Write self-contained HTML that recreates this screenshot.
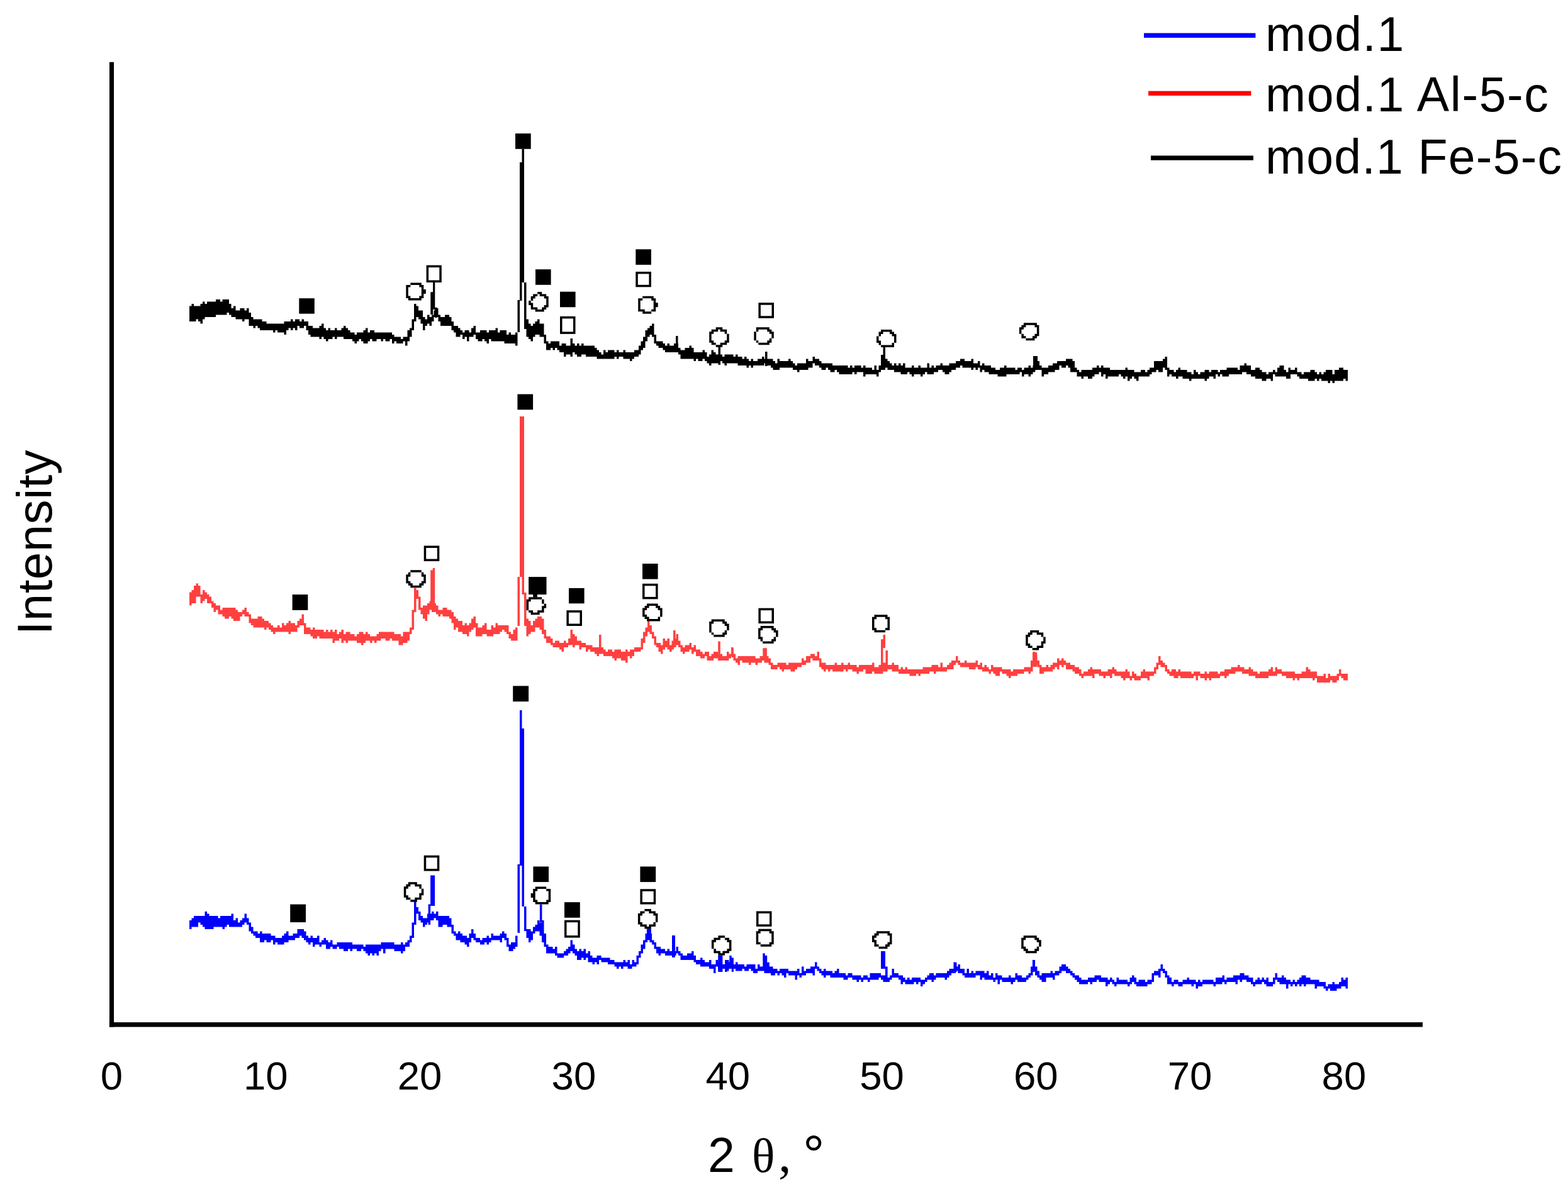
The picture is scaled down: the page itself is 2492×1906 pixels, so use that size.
<!DOCTYPE html>
<html lang="en">
<head>
<meta charset="utf-8">
<title>XRD patterns: mod.1, mod.1 Al-5-c, mod.1 Fe-5-c</title>
<style>
html,body{margin:0;padding:0;background:#fff;}
body{width:2492px;height:1906px;overflow:hidden;}
svg{display:block;}
text{font-family:"Liberation Sans",Arial,Helvetica,sans-serif;fill:#000;}
.serif{font-family:"Liberation Serif","Times New Roman",Times,serif;}
</style>
</head>
<body>
<svg width="2492" height="1906" viewBox="0 0 2492 1906">
<rect width="2492" height="1906" fill="#fff"/>
<g>
<rect x="173.9" y="98.7" width="7.1" height="1533.8" fill="#000"/>
<rect x="173.9" y="1625.1" width="2087.1" height="7.4" fill="#000"/>
<path fill="#0000ff" d="M301 1463H304.5V1459.5H308V1456H325.5V1449H329V1452.5H332.5V1456H346.5V1459.5H350V1456H367.5V1452.5H371V1463H374.5V1459.5H378V1466.5H381.5V1463H385V1459.5H388.5V1452.5H392V1459.5H395.5V1466.5H399V1473.5H402.5V1480.5H409.5V1484H413V1480.5H416.5V1484H430.5V1487.5H437.5V1491H448V1487.5H451.5V1484H455V1480.5H458.5V1487.5H465.5V1484H472.5V1477H483V1480.5H486.5V1487.5H490V1491H493.5V1487.5H497V1491H504V1487.5H507.5V1498H511V1494.5H514.5V1491H518V1494.5H521.5V1498H525V1494.5H528.5V1501.5H535.5V1498H560V1501.5H577.5V1505H581V1501.5H605.5V1498H626.5V1501.5H637V1498H640.5V1501.5H644V1498H647.5V1494.5H651V1487.5H654.5V1466.5H658V1431.5H661.5V1442H665V1449H668.5V1456H672V1459.5H679V1452.5H686V1449H689.5V1452.5H693V1449H696.5V1456H714V1459.5H717.5V1470H721V1480.5H724.5V1484H728V1480.5H731.5V1484H735V1487.5H742V1491H745.5V1484H749V1477H752.5V1484H756V1491H763V1494.5H766.5V1491H773.5V1487.5H777V1491H780.5V1484H784V1487.5H794.5V1484H798V1480.5H801.5V1484H805V1491H808.5V1501.5H812V1498H819V1487.5H822.5V1505H819V1508.5H815.5V1512H808.5V1505H805V1494.5H801.5V1491H798V1498H794.5V1494.5H780.5V1498H777V1501.5H773.5V1498H770V1501.5H763V1498H756V1494.5H752.5V1491H749V1498H745.5V1505H742V1501.5H738.5V1498H731.5V1494.5H724.5V1487.5H721V1484H717.5V1473.5H710.5V1470H703.5V1473.5H696.5V1463H693V1459.5H689.5V1463H682.5V1466.5H679V1470H675.5V1473.5H672V1466.5H668.5V1463H665V1452.5H661.5V1470H658V1491H654.5V1498H651V1505H644V1512H640.5V1515.5H637V1512H626.5V1508.5H612.5V1515.5H609V1508.5H605.5V1512H602V1519H598.5V1515.5H595V1519H591.5V1515.5H588V1519H584.5V1515.5H581V1512H577.5V1508.5H574V1512H567V1508.5H560V1512H556.5V1508.5H553V1512H546V1508.5H539V1505H535.5V1508.5H528.5V1505H525V1508.5H518V1501.5H511V1505H507.5V1501.5H500.5V1505H497V1498H493.5V1501.5H490V1498H486.5V1494.5H483V1491H479.5V1487.5H476V1491H469V1494.5H458.5V1498H451.5V1501.5H441V1498H437.5V1501.5H434V1494.5H430.5V1498H423.5V1494.5H420V1498H413V1491H406V1487.5H402.5V1484H399V1480.5H395.5V1470H392V1466.5H388.5V1470H385V1473.5H364V1470H360.5V1473.5H357V1477H353.5V1473.5H339.5V1477H325.5V1473.5H322V1470H318.5V1466.5H315V1473.5H304.5V1477H301ZM836.5 1477H843.5V1480.5H847V1473.5H850.5V1470H854V1463H857.5V1466.5H861V1463H864.5V1484H868V1501.5H871.5V1505H878.5V1508.5H882V1505H885.5V1515.5H896V1512H899.5V1508.5H903V1505H906.5V1494.5H910V1501.5H913.5V1508.5H917V1512H920.5V1508.5H924V1512H927.5V1508.5H931V1515.5H934.5V1512H938V1519H941.5V1522.5H948.5V1519H955.5V1522.5H969.5V1526H976.5V1529.5H990.5V1526H994V1529.5H997.5V1526H1001V1533H1004.5V1526H1008V1529.5H1011.5V1519H1015V1512H1018.5V1501.5H1022V1494.5H1025.5V1484H1029V1473.5H1032.5V1484H1036V1494.5H1039.5V1498H1043V1505H1050V1508.5H1057V1512H1060.5V1508.5H1064V1512H1074.5V1505H1078V1512H1081.5V1515.5H1085V1519H1092V1515.5H1099V1512H1102.5V1519H1106V1526H1113V1522.5H1116.5V1526H1120V1529.5H1127V1526H1130.5V1533H1137.5V1526H1141V1529.5H1148V1533H1155V1526H1158.5V1529.5H1162V1533H1169V1529.5H1172.5V1533H1183V1536.5H1186.5V1533H1200.5V1540H1204V1533H1207.5V1536.5H1214.5V1533H1221.5V1536.5H1228.5V1540H1235.5V1543.5H1239V1540H1253V1543.5H1267V1540H1270.5V1547H1274V1536.5H1277.5V1543.5H1281V1540H1288V1536.5H1295V1529.5H1298.5V1536.5H1302V1540H1305.5V1543.5H1309V1540H1312.5V1543.5H1323V1547H1326.5V1543.5H1330V1540H1333.5V1547H1344V1550.5H1347.5V1547H1354.5V1550.5H1368.5V1554H1372V1550.5H1379V1554H1382.5V1547H1400V1550.5H1410.5V1554H1414V1550.5H1417.5V1540H1421V1547H1428V1550.5H1435V1554H1438.5V1557.5H1442V1554H1445.5V1557.5H1449V1554H1463V1557.5H1470V1554H1473.5V1550.5H1477V1547H1484V1550.5H1487.5V1547H1505V1543.5H1508.5V1540H1515.5V1529.5H1519V1536.5H1522.5V1533H1526V1540H1533V1547H1536.5V1540H1540V1547H1543.5V1543.5H1547V1547H1550.5V1543.5H1564.5V1547H1568V1543.5H1571.5V1550.5H1575V1547H1578.5V1554H1582V1547H1585.5V1550.5H1592.5V1554H1603V1550.5H1606.5V1554H1613.5V1547H1617V1550.5H1624V1554H1631V1550.5H1634.5V1547H1638V1536.5H1641.5V1526H1645V1536.5H1648.5V1543.5H1652V1550.5H1655.5V1547H1669.5V1543.5H1673V1547H1676.5V1543.5H1683.5V1536.5H1687V1533H1694V1536.5H1697.5V1540H1701V1543.5H1704.5V1547H1708V1550.5H1715V1554H1718.5V1557.5H1729V1554H1739.5V1550.5H1750V1554H1760.5V1557.5H1764V1554H1767.5V1557.5H1771V1561H1774.5V1554H1778V1557.5H1792V1561H1795.5V1554H1799V1550.5H1802.5V1554H1806V1561H1809.5V1557.5H1820V1561H1823.5V1557.5H1830.5V1547H1834V1543.5H1841V1540H1844.5V1533H1848V1540H1851.5V1543.5H1855V1550.5H1858.5V1554H1862V1561H1865.5V1557.5H1872.5V1561H1879.5V1557.5H1886.5V1554H1890V1557.5H1900.5V1561H1904V1557.5H1907.5V1561H1911V1557.5H1928.5V1561H1932V1554H1942.5V1550.5H1946V1557.5H1949.5V1554H1960V1550.5H1970.5V1547H1977.5V1550.5H1984.5V1554H1991.5V1561H1995V1557.5H1998.5V1554H2002V1557.5H2005.5V1554H2009V1557.5H2012.5V1554H2016V1561H2023V1554H2026.5V1547H2030V1554H2037V1550.5H2040.5V1554H2044V1557.5H2051V1561H2054.5V1557.5H2058V1561H2061.5V1557.5H2065V1554H2068.5V1550.5H2075.5V1554H2082.5V1557.5H2096.5V1561H2107V1568H2110.5V1564.5H2117.5V1561H2121V1564.5H2128V1561H2131.5V1554H2135V1557.5H2138.5V1554H2142V1571.5H2138.5V1568H2131.5V1571.5H2124.5V1575H2114V1571.5H2110.5V1575H2107V1571.5H2103.5V1568H2093V1571.5H2089.5V1564.5H2075.5V1568H2072V1564.5H2068.5V1568H2065V1564.5H2061.5V1568H2058V1564.5H2054.5V1568H2051V1564.5H2047.5V1571.5H2044V1564.5H2033.5V1561H2030V1557.5H2026.5V1564.5H2023V1568H2012.5V1564.5H2009V1561H2005.5V1564.5H1995V1568H1991.5V1564.5H1988V1561H1981V1557.5H1974V1561H1970.5V1557.5H1967V1564.5H1963.5V1561H1949.5V1564.5H1946V1561H1942.5V1564.5H1932V1568H1928.5V1564.5H1911V1568H1904V1571.5H1900.5V1564.5H1897V1568H1893.5V1564.5H1879.5V1568H1872.5V1564.5H1865.5V1568H1862V1564.5H1855V1554H1851.5V1547H1848V1543.5H1844.5V1554H1841V1550.5H1834V1561H1830.5V1564.5H1823.5V1568H1806V1564.5H1802.5V1561H1799V1564.5H1795.5V1568H1792V1564.5H1774.5V1568H1771V1564.5H1767.5V1561H1764V1564.5H1760.5V1568H1757V1561H1746.5V1557.5H1743V1561H1736V1564.5H1732.5V1561H1729V1564.5H1715V1561H1711.5V1557.5H1708V1554H1704.5V1550.5H1701V1547H1694V1543.5H1687V1547H1683.5V1550.5H1676.5V1557.5H1673V1554H1662.5V1561H1655.5V1557.5H1652V1554H1648.5V1550.5H1645V1543.5H1641.5V1550.5H1638V1554H1634.5V1557.5H1631V1561H1617V1557.5H1613.5V1561H1610V1564.5H1606.5V1561H1592.5V1557.5H1589V1564.5H1585.5V1557.5H1582V1561H1578.5V1557.5H1564.5V1554H1561V1557.5H1557.5V1550.5H1550.5V1554H1533V1550.5H1529.5V1547H1522.5V1543.5H1519V1547H1512V1550.5H1508.5V1554H1505V1557.5H1501.5V1554H1487.5V1557.5H1484V1561H1480.5V1557.5H1473.5V1561H1470V1564.5H1466.5V1568H1463V1561H1459.5V1564.5H1456V1561H1452.5V1564.5H1438.5V1561H1435V1564.5H1431.5V1557.5H1428V1554H1417.5V1557.5H1414V1561H1403.5V1557.5H1400V1554H1396.5V1557.5H1382.5V1561H1379V1557.5H1372V1561H1368.5V1557.5H1365V1561H1361.5V1557.5H1354.5V1554H1347.5V1557.5H1340.5V1554H1319.5V1550.5H1312.5V1554H1309V1550.5H1305.5V1547H1302V1543.5H1298.5V1540H1295V1550.5H1291.5V1547H1281V1550.5H1274V1554H1270.5V1550.5H1267V1557.5H1263.5V1550.5H1253V1547H1249.5V1554H1246V1550.5H1242.5V1547H1239V1550.5H1235.5V1547H1232V1550.5H1225V1547H1214.5V1543.5H1204V1547H1197V1543.5H1193.5V1540H1190V1543.5H1183V1540H1179.5V1543.5H1169V1540H1158.5V1543.5H1155V1540H1141V1536.5H1137.5V1547H1134V1540H1127V1536.5H1113V1533H1106V1529.5H1102.5V1526H1081.5V1519H1078V1515.5H1074.5V1519H1057V1515.5H1050V1519H1046.5V1515.5H1043V1508.5H1039.5V1501.5H1036V1498H1032.5V1494.5H1029V1498H1025.5V1508.5H1022V1515.5H1018.5V1522.5H1015V1533H1011.5V1536.5H1004.5V1540H997.5V1536.5H990.5V1540H987V1536.5H983.5V1540H980V1536.5H976.5V1533H966V1529.5H955.5V1526H952V1533H948.5V1529.5H945V1533H941.5V1529.5H934.5V1522.5H931V1526H927.5V1522.5H924V1526H917V1519H913.5V1515.5H910V1512H906.5V1515.5H903V1519H896V1522.5H885.5V1519H882V1515.5H868V1505H864.5V1498H861V1487.5H857.5V1480.5H850.5V1484H847V1494.5H843.5V1498H840V1491H836.5ZM680.6 1437.5h3.5V1470h-3.5ZM684.1 1391.4h7V1440h-7ZM822.5 1374h3.5V1483h-3.5ZM826 1129h3.5V1376h-3.5ZM829.5 1158h3.5V1441h-3.5ZM833 1441h3.5V1480h-3.5ZM857.9 1437.5h3.5V1466h-3.5ZM1027.9 1476.6h7.1V1490h-7.1ZM1068 1487h5V1522h-5ZM1141.2 1518.8h7.2V1545h-7.2ZM1152.1 1526h3.5V1545h-3.5ZM1159.3 1519.1h3.4V1540h-3.4ZM1162.7 1522.6h3.2V1545h-3.2ZM1212.3 1515.4h3.5V1540h-3.5ZM1215.8 1519.1h3.4V1545h-3.4ZM1219.2 1529.7h3.6V1545h-3.6ZM1400 1512.1h7V1540h-7ZM1407 1536.6h3.6V1554h-3.6ZM1517 1530h3.5V1545h-3.5ZM1640.9 1526h3.8V1545h-3.8Z"/>
<path fill="#ff4040" d="M301 941.5H304.5V938H308V931H311.5V927.5H315V931H318.5V945H322V938H325.5V941.5H329V945H332.5V948.5H336V955.5H339.5V959H343V962.5H350V969.5H353.5V966H374.5V969.5H378V973H385V969.5H388.5V966H392V973H395.5V976.5H399V983.5H409.5V980H416.5V983.5H420V987H427V990.5H430.5V994H434V997.5H441V994H444.5V997.5H448V990.5H451.5V994H455V990.5H458.5V987H462V990.5H469V994H472.5V987H476V983.5H479.5V976.5H483V990.5H486.5V997.5H493.5V1001H497V997.5H500.5V1001H514.5V1004.5H518V1001H521.5V1004.5H525V1001H528.5V1004.5H532V1001H535.5V1008H539V1004.5H542.5V1001H546V1008H549.5V1004.5H556.5V1008H563.5V1011.5H567V1008H570.5V1004.5H577.5V1008H581V1004.5H584.5V1008H588V1011.5H598.5V1008H602V1004.5H626.5V1008H637V1011.5H640.5V1004.5H651V997.5H654.5V969.5H658V934.5H661.5V938H665V948.5H668.5V966H672V962.5H679V959H682.5V955.5H686V959H693V962.5H696.5V969.5H703.5V966H710.5V969.5H717.5V973H721V980H724.5V983.5H728V987H735V994H738.5V990.5H742V994H745.5V990.5H749V983.5H752.5V980H756V990.5H759.5V997.5H766.5V994H770V990.5H773.5V1001H780.5V994H784V997.5H787.5V990.5H791V994H808.5V1004.5H812V1008H815.5V1001H819V997.5H822.5V1018.5H812V1015H808.5V1008H805V1004.5H801.5V1001H798V1004.5H794.5V1008H784V1011.5H773.5V1008H766.5V1011.5H756V997.5H752.5V1001H749V1004.5H745.5V1011.5H742V1008H735V1004.5H728V997.5H724.5V1001H721V990.5H717.5V983.5H714V980H703.5V976.5H700V980H696.5V976.5H693V973H686V969.5H682.5V976.5H679V987H675.5V983.5H672V976.5H668.5V969.5H665V952H661.5V973H658V1001H654.5V1008H651V1018.5H647.5V1022H640.5V1025.5H633.5V1018.5H623V1015H619.5V1018.5H612.5V1015H605.5V1018.5H598.5V1022H595V1018.5H591.5V1022H588V1018.5H581V1022H577.5V1025.5H574V1022H567V1018.5H553V1022H549.5V1018.5H546V1022H542.5V1015H539V1018.5H532V1022H528.5V1015H507.5V1011.5H504V1015H497V1011.5H493.5V1008H483V994H476V997.5H472.5V1004.5H462V1008H458.5V1004.5H437.5V1008H434V1004.5H430.5V1001H427V997.5H423.5V1001H420V997.5H402.5V994H399V990.5H395.5V980H388.5V976.5H385V980H381.5V987H371V983.5H367.5V980H364V983.5H357V980H353.5V976.5H346.5V969.5H343V973H339.5V966H336V959H329V952H325.5V955.5H322V959H318.5V948.5H311.5V959H304.5V962.5H301ZM836.5 983.5H840V987H843.5V994H847V987H850.5V983.5H854V980H861V983.5H864.5V1001H868V1011.5H875V1015H878.5V1022H882V1018.5H889V1022H896V1018.5H899.5V1022H903V1015H906.5V1001H910V1008H913.5V1011.5H917V1018.5H924V1022H931V1025.5H941.5V1029H959V1032.5H962.5V1036H966V1032.5H973V1036H976.5V1032.5H987V1036H994V1032.5H997.5V1036H1001V1032.5H1008V1029H1018.5V1015H1022V1004.5H1025.5V997.5H1029V987H1032.5V994H1036V1004.5H1039.5V1011.5H1043V1022H1050V1025.5H1053.5V1015H1057V1018.5H1060.5V1015H1064V1025.5H1067.5V1018.5H1071V1015H1074.5V1008H1078V1018.5H1081.5V1025.5H1085V1029H1088.5V1025.5H1095.5V1022H1099V1029H1102.5V1025.5H1106V1032.5H1113V1036H1116.5V1039.5H1120V1036H1127V1043H1130.5V1039.5H1134V1036H1141V1039.5H1148V1043H1155V1036H1158.5V1039.5H1162V1029H1165.5V1039.5H1169V1046.5H1172.5V1043H1200.5V1046.5H1207.5V1043H1214.5V1046.5H1218V1043H1221.5V1046.5H1225V1053.5H1228.5V1057H1235.5V1053.5H1249.5V1057H1253V1053.5H1274V1046.5H1277.5V1050H1281V1043H1288V1039.5H1295V1043H1298.5V1036H1302V1046.5H1305.5V1053.5H1312.5V1057H1326.5V1053.5H1330V1057H1337V1053.5H1340.5V1057H1347.5V1053.5H1351V1057H1361.5V1060.5H1365V1057H1386V1053.5H1389.5V1060.5H1396.5V1057H1403.5V1053.5H1410.5V1057H1417.5V1053.5H1421V1057H1428V1064H1431.5V1060.5H1435V1064H1438.5V1060.5H1442V1064H1466.5V1060.5H1480.5V1057H1491V1060.5H1494.5V1053.5H1498V1060.5H1505V1057H1508.5V1053.5H1512V1050H1519V1043H1522.5V1050H1526V1053.5H1533V1050H1536.5V1053.5H1550.5V1050H1554V1057H1557.5V1053.5H1561V1060.5H1564.5V1057H1568V1060.5H1571.5V1064H1575V1057H1578.5V1060.5H1592.5V1064H1606.5V1067.5H1610V1064H1627.5V1060.5H1638V1050H1641.5V1036H1645V1039.5H1648.5V1050H1652V1057H1655.5V1060.5H1662.5V1057H1666V1060.5H1669.5V1057H1673V1053.5H1680V1046.5H1683.5V1050H1687V1046.5H1690.5V1050H1694V1053.5H1701V1057H1708V1060.5H1715V1064H1718.5V1071H1722V1067.5H1729V1064H1732.5V1060.5H1736V1064H1750V1067.5H1760.5V1064H1767.5V1060.5H1771V1064H1774.5V1067.5H1788.5V1064H1792V1067.5H1795.5V1074.5H1799V1067.5H1802.5V1071H1806V1074.5H1813V1067.5H1816.5V1064H1820V1067.5H1834V1060.5H1837.5V1053.5H1841V1043H1844.5V1050H1848V1053.5H1851.5V1057H1855V1064H1858.5V1067.5H1862V1064H1869V1067.5H1872.5V1064H1876V1067.5H1893.5V1071H1897V1067.5H1907.5V1071H1914.5V1067.5H1918V1071H1921.5V1067.5H1935.5V1071H1939V1067.5H1946V1064H1956.5V1060.5H1967V1057H1970.5V1060.5H1977.5V1064H1984.5V1060.5H1988V1064H1991.5V1067.5H1998.5V1071H2002V1067.5H2016V1064H2019.5V1060.5H2023V1067.5H2026.5V1060.5H2030V1064H2037V1067.5H2058V1071H2068.5V1067.5H2075.5V1060.5H2079V1064H2082.5V1067.5H2093V1074.5H2103.5V1071H2107V1078H2110.5V1071H2114V1074.5H2124.5V1071H2128V1064H2131.5V1071H2142V1081.5H2135V1078H2131.5V1074.5H2128V1081.5H2124.5V1085H2117.5V1081.5H2114V1085H2093V1078H2089.5V1081.5H2086V1078H2065V1081.5H2061.5V1078H2058V1081.5H2054.5V1078H2044V1074.5H2037V1071H2030V1074.5H2016V1078H1995V1074.5H1984.5V1071H1974V1067.5H1963.5V1071H1953V1074.5H1949.5V1078H1946V1074.5H1939V1078H1925V1081.5H1921.5V1078H1918V1081.5H1914.5V1078H1907.5V1074.5H1904V1081.5H1900.5V1074.5H1897V1078H1876V1074.5H1872.5V1078H1865.5V1074.5H1858.5V1071H1855V1067.5H1851.5V1060.5H1844.5V1057H1841V1064H1837.5V1071H1834V1074.5H1827V1081.5H1823.5V1078H1813V1081.5H1802.5V1078H1799V1081.5H1795.5V1078H1788.5V1081.5H1785V1078H1781.5V1074.5H1771V1071H1767.5V1078H1764V1074.5H1757V1078H1753.5V1074.5H1746.5V1071H1739.5V1078H1736V1074.5H1722V1078H1718.5V1074.5H1715V1071H1708V1067.5H1704.5V1064H1694V1057H1690.5V1060.5H1687V1057H1683.5V1064H1680V1060.5H1676.5V1064H1673V1067.5H1659V1071H1652V1060.5H1648.5V1057H1641.5V1067.5H1638V1071H1634.5V1067.5H1627.5V1071H1617V1074.5H1606.5V1078H1603V1074.5H1599.5V1071H1592.5V1067.5H1589V1074.5H1582V1071H1578.5V1067.5H1575V1071H1571.5V1067.5H1561V1064H1554V1060.5H1550.5V1064H1540V1060.5H1526V1057H1522.5V1053.5H1519V1057H1515.5V1064H1505V1067.5H1487.5V1071H1484V1067.5H1477V1071H1463V1074.5H1459.5V1071H1456V1074.5H1445.5V1071H1428V1067.5H1417.5V1064H1410.5V1067.5H1403.5V1071H1389.5V1067.5H1386V1071H1375.5V1064H1372V1067.5H1365V1071H1361.5V1067.5H1354.5V1064H1347.5V1067.5H1344V1064H1340.5V1067.5H1323V1064H1319.5V1067.5H1316V1064H1312.5V1067.5H1309V1064H1305.5V1060.5H1302V1050H1291.5V1046.5H1288V1053.5H1281V1057H1274V1060.5H1267V1064H1263.5V1067.5H1256.5V1064H1246V1067.5H1242.5V1064H1239V1060.5H1235.5V1064H1225V1057H1221.5V1053.5H1214.5V1050H1211V1053.5H1204V1057H1200.5V1053.5H1193.5V1057H1190V1053.5H1179.5V1050H1176V1057H1172.5V1053.5H1169V1050H1165.5V1043H1162V1046.5H1158.5V1050H1141V1046.5H1134V1050H1123.5V1043H1120V1046.5H1113V1043H1106V1036H1102.5V1039.5H1099V1032.5H1095.5V1036H1088.5V1039.5H1085V1036H1081.5V1029H1078V1025.5H1074.5V1029H1071V1032.5H1067.5V1036H1064V1032.5H1060.5V1029H1057V1032.5H1053.5V1039.5H1050V1036H1046.5V1029H1043V1025.5H1039.5V1015H1036V1008H1032.5V1004.5H1029V1011.5H1025.5V1022H1022V1032.5H1018.5V1036H1008V1043H1004.5V1046.5H1001V1043H997.5V1053.5H994V1050H987V1046.5H980V1050H976.5V1046.5H973V1043H959V1039.5H952V1043H948.5V1039.5H945V1036H938V1032.5H934.5V1036H931V1029H924V1032.5H920.5V1025.5H913.5V1029H910V1022H906.5V1025.5H903V1029H896V1036H892.5V1032.5H889V1029H878.5V1025.5H875V1022H868V1015H864.5V1008H861V1001H857.5V997.5H850.5V1004.5H843.5V1008H840V1011.5H836.5ZM684.2 906.2h3.5V965h-3.5ZM687.7 903.1h3.5V965h-3.5ZM822.5 917h3.5V995h-3.5ZM826 662h3.5V917h-3.5ZM829.5 662h3.5V945h-3.5ZM833 942h3.5V995h-3.5ZM906.5 1002h3.5V1025h-3.5ZM952 1009h3.5V1035h-3.5ZM1070 1002h3.5V1025h-3.5ZM1141.2 1019.6h3.6V1045h-3.6ZM1162.7 1030.2h3.2V1045h-3.2ZM1212.3 1030.2h6.6V1048h-6.6ZM1400 1016.3h3.5V1060h-3.5ZM1403.5 1009.1h3.5V1030h-3.5ZM1407.5 1034h3.5V1062h-3.5ZM1641 1037.1h7V1060h-7Z"/>
<path fill="#000" d="M301 486.5H304.5V483H308V486.5H318.5V483H322V479.5H325.5V483H329V479.5H343V476H350V479.5H353.5V476H364V483H367.5V490H371V486.5H374.5V493.5H381.5V490H388.5V493.5H392V490H395.5V497H399V504H402.5V507.5H416.5V511H423.5V514.5H451.5V511H462V507.5H465.5V511H469V507.5H476V511H479.5V507.5H483V511H490V518H497V521.5H507.5V518H511V514.5H514.5V521.5H518V525H521.5V521.5H525V525H532V521.5H535.5V525H542.5V521.5H546V518H549.5V521.5H553V525H556.5V528.5H563.5V532H567V528.5H577.5V525H581V521.5H584.5V528.5H588V525H595V528.5H623V532H626.5V535.5H637V539H640.5V535.5H647.5V525H651V521.5H654.5V507.5H658V483H661.5V486.5H665V493.5H672V504H675.5V507.5H679V500.5H682.5V504H686V500.5H689.5V493.5H693V490H696.5V500.5H700V504H707V500.5H714V504H717.5V511H721V518H728V521.5H731.5V525H735V528.5H738.5V525H745.5V528.5H749V521.5H752.5V518H756V528.5H763V525H773.5V528.5H777V525H787.5V521.5H791V528.5H794.5V525H805V532H808.5V528.5H812V532H819V528.5H822.5V549.5H819V546H801.5V542.5H780.5V539H777V546H773.5V542.5H770V539H766.5V542.5H759.5V539H756V532H752.5V535.5H745.5V542.5H742V535.5H738.5V539H735V532H731.5V535.5H724.5V528.5H721V525H717.5V518H700V511H696.5V504H689.5V511H686V518H682.5V514.5H679V518H675.5V525H672V514.5H668.5V507.5H665V504H661.5V511H658V525H654.5V535.5H651V542.5H647.5V549.5H644V542.5H640.5V546H630V542.5H626.5V546H623V539H619.5V542.5H612.5V539H609V542.5H605.5V539H598.5V542.5H591.5V539H588V542.5H584.5V546H577.5V542.5H574V539H570.5V542.5H567V546H563.5V542.5H560V539H546V535.5H535.5V539H532V535.5H528.5V539H521.5V542.5H518V539H514.5V535.5H511V539H507.5V535.5H493.5V532H490V525H486.5V518H483V521.5H476V518H472.5V525H469V521.5H465.5V525H462V521.5H458.5V525H455V532H451.5V528.5H441V525H437.5V528.5H434V525H413V521.5H409.5V518H406V521.5H402.5V518H395.5V507.5H388.5V511H385V507.5H374.5V504H367.5V500.5H364V497H360.5V500.5H343V504H325.5V507.5H322V514.5H318.5V511H315V507.5H311.5V511H301ZM836.5 507.5H840V514.5H843.5V518H847V514.5H850.5V511H854V507.5H857.5V514.5H864.5V532H868V542.5H871.5V546H875V542.5H889V549.5H892.5V546H899.5V549.5H906.5V553H910V546H913.5V549.5H917V546H920.5V549.5H924V546H927.5V549.5H945V553H948.5V556.5H952V560H955.5V563.5H959V556.5H962.5V560H966V556.5H976.5V560H980V556.5H983.5V560H990.5V556.5H994V560H1008V556.5H1015V549.5H1018.5V542.5H1022V535.5H1025.5V525H1029V521.5H1032.5V518H1036V514.5H1039.5V532H1043V542.5H1053.5V546H1057V549.5H1060.5V546H1064V549.5H1071V546H1078V553H1081.5V556.5H1088.5V553H1095.5V549.5H1099V553H1102.5V560H1116.5V556.5H1120V560H1123.5V567H1127V563.5H1130.5V556.5H1134V560H1137.5V563.5H1148V567H1151.5V563.5H1165.5V567H1169V563.5H1172.5V567H1179.5V570.5H1183V567H1186.5V570.5H1190V574H1193.5V570.5H1197V574H1204V570.5H1211V567H1214.5V570.5H1228.5V574H1232V577.5H1235.5V570.5H1239V574H1253V570.5H1256.5V574H1260V577.5H1263.5V581H1267V577.5H1281V570.5H1284.5V574H1291.5V567H1295V570.5H1302V574H1305.5V577.5H1323V581H1347.5V584.5H1351V581H1354.5V584.5H1358V581H1368.5V584.5H1372V581H1375.5V584.5H1386V588H1389.5V581H1393V588H1396.5V581H1400V570.5H1410.5V574H1414V577.5H1417.5V581H1421V577.5H1424.5V581H1428V577.5H1431.5V581H1435V577.5H1438.5V584.5H1449V581H1452.5V584.5H1459.5V581H1463V584.5H1473.5V577.5H1477V584.5H1480.5V581H1484V584.5H1487.5V581H1494.5V577.5H1498V581H1508.5V577.5H1519V574H1526V570.5H1533V574H1543.5V570.5H1547V577.5H1554V574H1557.5V581H1561V577.5H1564.5V581H1575V584.5H1582V588H1589V584.5H1596V581H1599.5V584.5H1613.5V588H1617V584.5H1624V588H1627.5V584.5H1634.5V581H1638V584.5H1641.5V581H1645V577.5H1648.5V574H1652V581H1655.5V584.5H1666V581H1673V577.5H1680V574H1694V570.5H1704.5V574H1708V584.5H1711.5V588H1715V591.5H1718.5V588H1736V584.5H1743V581H1746.5V584.5H1750V581H1753.5V584.5H1764V588H1788.5V584.5H1792V588H1802.5V591.5H1813V588H1820V591.5H1823.5V588H1827V584.5H1834V574H1848V570.5H1851.5V567H1855V584.5H1858.5V588H1865.5V591.5H1869V588H1872.5V584.5H1876V588H1886.5V591.5H1893.5V595H1897V588H1900.5V591.5H1904V595H1907.5V591.5H1914.5V588H1921.5V591.5H1925V588H1935.5V591.5H1939V588H1949.5V584.5H1967V588H1970.5V581H1977.5V577.5H1981V581H1988V588H1995V584.5H2002V588H2005.5V591.5H2012.5V595H2016V591.5H2023V588H2026.5V591.5H2030V584.5H2033.5V581H2040.5V588H2044V591.5H2047.5V584.5H2051V588H2058V584.5H2061.5V591.5H2068.5V595H2072V591.5H2082.5V588H2089.5V591.5H2093V595H2096.5V591.5H2100V595H2103.5V591.5H2107V588H2117.5V595H2121V588H2128V584.5H2135V588H2142V605.5H2138.5V602H2135V605.5H2121V609H2117.5V605.5H2114V609H2110.5V605.5H2100V602H2096.5V605.5H2093V602H2089.5V605.5H2079V602H2065V598.5H2061.5V595H2051V602H2044V598.5H2026.5V595H2023V605.5H2019.5V602H2012.5V605.5H2005.5V602H1995V598.5H1988V595H1981V591.5H1974V595H1953V598.5H1942.5V595H1939V598.5H1935.5V595H1932V602H1928.5V598.5H1921.5V602H1918V605.5H1914.5V602H1893.5V605.5H1890V602H1879.5V598.5H1872.5V602H1869V598.5H1862V595H1858.5V598.5H1855V588H1851.5V584.5H1848V591.5H1841V588H1837.5V591.5H1830.5V595H1827V598.5H1809.5V605.5H1806V602H1802.5V598.5H1799V602H1795.5V605.5H1792V598.5H1788.5V602H1785V598.5H1781.5V595H1778V598.5H1760.5V602H1757V595H1753.5V598.5H1750V591.5H1746.5V595H1739.5V598.5H1736V602H1729V598.5H1722V602H1718.5V598.5H1711.5V591.5H1701V584.5H1697.5V581H1694V584.5H1687V581H1683.5V588H1676.5V591.5H1666V595H1659V598.5H1655.5V588H1645V591.5H1641.5V595H1638V598.5H1634.5V595H1627.5V598.5H1624V591.5H1620.5V595H1599.5V598.5H1585.5V595H1571.5V591.5H1564.5V588H1561V591.5H1557.5V584.5H1554V588H1550.5V584.5H1547V588H1543.5V584.5H1529.5V581H1526V584.5H1519V588H1512V591.5H1508.5V595H1501.5V591.5H1498V588H1491V591.5H1484V595H1473.5V591.5H1470V595H1466.5V598.5H1463V595H1452.5V598.5H1449V595H1445.5V591.5H1442V595H1431.5V591.5H1421V588H1410.5V584.5H1400V591.5H1396.5V598.5H1393V595H1375.5V598.5H1372V591.5H1361.5V595H1358V591.5H1354.5V595H1333.5V591.5H1330V588H1326.5V591.5H1319.5V588H1316V584.5H1312.5V588H1305.5V584.5H1302V581H1295V577.5H1291.5V584.5H1284.5V588H1270.5V591.5H1267V588H1260V584.5H1239V588H1228.5V584.5H1225V581H1218V577.5H1214.5V581H1197V584.5H1193.5V581H1190V584.5H1186.5V581H1172.5V577.5H1155V581H1151.5V577.5H1148V574H1144.5V577.5H1130.5V581H1127V577.5H1123.5V574H1120V570.5H1116.5V574H1109.5V570.5H1106V574H1102.5V570.5H1081.5V563.5H1078V560H1057V556.5H1053.5V553H1046.5V549.5H1043V546H1039.5V535.5H1036V532H1032.5V535.5H1029V542.5H1025.5V553H1022V556.5H1018.5V563.5H1015V567H1008V570.5H1004.5V574H1001V570.5H990.5V567H983.5V570.5H980V567H976.5V570.5H948.5V567H931V563.5H924V567H917V563.5H913.5V560H910V567H906.5V563.5H899.5V567H896V560H889V556.5H885.5V553H882V556.5H878.5V553H875V556.5H868V546H864.5V535.5H857.5V532H850.5V535.5H847V542.5H843.5V539H840V535.5H836.5ZM684.3 464.2h3.8V500h-3.8ZM688.1 442.2h3.2V492h-3.2ZM691 488.7h3.6V505h-3.6ZM822.5 477h3.5V528h-3.5ZM826 258h3.5V478h-3.5ZM829.5 237h3.5V449h-3.5ZM833 449h3.5V523h-3.5ZM906.5 538h3.5V560h-3.5ZM1074 534h3.5V556h-3.5ZM1141.5 550h3.5V580h-3.5ZM1216 559h3.5V582h-3.5ZM1403.5 551h3.5V588h-3.5ZM1400 564h3.5V588h-3.5ZM1642 566h3.5V590h-3.5ZM1645.5 566h3.5V585h-3.5Z"/>
<rect x="475.3" y="474.2" width="24.5" height="24.5" fill="#000"/>
<rect x="819.0" y="212.2" width="24.7" height="24.6" fill="#000"/>
<rect x="851.0" y="428.2" width="24.6" height="24.6" fill="#000"/>
<rect x="890.0" y="463.7" width="24.6" height="24.6" fill="#000"/>
<rect x="1010.3" y="396.3" width="24.6" height="24.6" fill="#000"/>
<rect x="464.6" y="945.1" width="24.7" height="24.8" fill="#000"/>
<rect x="822.4" y="626.6" width="24.7" height="24.7" fill="#000"/>
<rect x="840.1" y="917.1" width="28.4" height="28.0" fill="#000"/>
<rect x="904.0" y="934.9" width="24.6" height="24.4" fill="#000"/>
<rect x="1021.0" y="896.0" width="24.6" height="24.6" fill="#000"/>
<rect x="461.2" y="1437.6" width="24.8" height="28.5" fill="#000"/>
<rect x="815.2" y="1090.4" width="24.9" height="24.8" fill="#000"/>
<rect x="847.4" y="1377.5" width="24.6" height="24.6" fill="#000"/>
<rect x="897.0" y="1434.2" width="24.8" height="24.6" fill="#000"/>
<rect x="1017.4" y="1377.5" width="24.8" height="24.6" fill="#000"/>
<rect x="679.35" y="423.35" width="20.7" height="23.9" fill="#fff" stroke="#000" stroke-width="3.5"/>
<rect x="891.75" y="504.65" width="21.0" height="24.5" fill="#fff" stroke="#000" stroke-width="3.5"/>
<rect x="1012.05" y="433.65" width="21.1" height="20.9" fill="#fff" stroke="#000" stroke-width="3.5"/>
<rect x="1207.15" y="482.95" width="21.1" height="21.1" fill="#fff" stroke="#000" stroke-width="3.5"/>
<rect x="675.45" y="869.25" width="21.1" height="21.1" fill="#fff" stroke="#000" stroke-width="3.5"/>
<rect x="902.15" y="971.95" width="21.1" height="21.3" fill="#fff" stroke="#000" stroke-width="3.5"/>
<rect x="1022.75" y="929.55" width="21.1" height="21.1" fill="#fff" stroke="#000" stroke-width="3.5"/>
<rect x="1207.15" y="968.45" width="21.1" height="20.9" fill="#fff" stroke="#000" stroke-width="3.5"/>
<rect x="675.45" y="1361.55" width="21.1" height="21.3" fill="#fff" stroke="#000" stroke-width="3.5"/>
<rect x="898.75" y="1464.45" width="21.3" height="24.4" fill="#fff" stroke="#000" stroke-width="3.5"/>
<rect x="1019.15" y="1415.05" width="21.3" height="20.8" fill="#fff" stroke="#000" stroke-width="3.5"/>
<rect x="1203.75" y="1450.25" width="21.0" height="20.9" fill="#fff" stroke="#000" stroke-width="3.5"/>
<rect x="847.2" y="944.9" width="6.7" height="4.5" fill="#000"/>
<path d="M652.3 449.5h17.5v3.5h-17.5ZM645.3 453.0h7v3.5h-7ZM666.3 453.0h7v3.5h-7ZM645.3 456.5h3.5v3.5h-3.5ZM669.8 456.5h3.5v3.5h-3.5ZM645.3 460.0h3.5v3.5h-3.5ZM669.8 460.0h7v3.5h-7ZM645.3 463.5h3.5v3.5h-3.5ZM669.8 463.5h7v3.5h-7ZM645.3 467.0h3.5v3.5h-3.5ZM669.8 467.0h3.5v3.5h-3.5ZM645.3 470.5h7v3.5h-7ZM666.3 470.5h7v3.5h-7ZM648.8 474.0h21v3.5h-21Z" fill="#000"/>
<path d="M854.2 463.9h7v3.5h-7ZM847.2 467.4h7v3.5h-7ZM857.7 467.4h10.5v3.5h-10.5ZM843.7 470.9h7v3.5h-7ZM864.7 470.9h7v3.5h-7ZM843.7 474.4h3.5v3.5h-3.5ZM868.2 474.4h3.5v3.5h-3.5ZM840.2 477.9h3.5v3.5h-3.5ZM868.2 477.9h3.5v3.5h-3.5ZM840.2 481.4h7v3.5h-7ZM868.2 481.4h3.5v3.5h-3.5ZM843.7 484.9h3.5v3.5h-3.5ZM864.7 484.9h7v3.5h-7ZM843.7 488.4h10.5v3.5h-10.5ZM861.2 488.4h7v3.5h-7ZM850.7 491.9h14v3.5h-14Z" fill="#000"/>
<path d="M1021.2 470.7h17.5v3.5h-17.5ZM1014.2 474.2h7v3.5h-7ZM1035.2 474.2h7v3.5h-7ZM1014.2 477.7h3.5v3.5h-3.5ZM1038.7 477.7h3.5v3.5h-3.5ZM1014.2 481.2h3.5v3.5h-3.5ZM1038.7 481.2h7v3.5h-7ZM1014.2 484.7h3.5v3.5h-3.5ZM1038.7 484.7h7v3.5h-7ZM1014.2 488.2h3.5v3.5h-3.5ZM1038.7 488.2h3.5v3.5h-3.5ZM1014.2 491.7h10.5v3.5h-10.5ZM1035.2 491.7h7v3.5h-7ZM1021.2 495.2h14v3.5h-14Z" fill="#000"/>
<path d="M1137.7 520.2h10.5v3.5h-10.5ZM1130.7 523.7h10.5v3.5h-10.5ZM1144.7 523.7h10.5v3.5h-10.5ZM1127.2 527.2h7v3.5h-7ZM1151.7 527.2h3.5v3.5h-3.5ZM1127.2 530.7h3.5v3.5h-3.5ZM1155.2 530.7h3.5v3.5h-3.5ZM1127.2 534.2h3.5v3.5h-3.5ZM1155.2 534.2h3.5v3.5h-3.5ZM1127.2 537.7h3.5v3.5h-3.5ZM1155.2 537.7h3.5v3.5h-3.5ZM1127.2 541.2h7v3.5h-7ZM1151.7 541.2h7v3.5h-7ZM1130.7 544.7h7v3.5h-7ZM1144.7 544.7h10.5v3.5h-10.5ZM1137.7 548.2h10.5v3.5h-10.5Z" fill="#000"/>
<path d="M1201.8 520.2h21v3.5h-21ZM1201.8 523.7h3.5v3.5h-3.5ZM1219.3 523.7h7v3.5h-7ZM1198.3 527.2h3.5v3.5h-3.5ZM1222.8 527.2h7v3.5h-7ZM1198.3 530.7h3.5v3.5h-3.5ZM1226.3 530.7h3.5v3.5h-3.5ZM1198.3 534.2h3.5v3.5h-3.5ZM1226.3 534.2h3.5v3.5h-3.5ZM1198.3 537.7h3.5v3.5h-3.5ZM1222.8 537.7h3.5v3.5h-3.5ZM1201.8 541.2h3.5v3.5h-3.5ZM1219.3 541.2h7v3.5h-7ZM1205.3 544.7h17.5v3.5h-17.5Z" fill="#000"/>
<path d="M1400.0 524.0h17.5v3.5h-17.5ZM1396.5 527.5h7v3.5h-7ZM1414.0 527.5h7v3.5h-7ZM1396.5 531.0h3.5v3.5h-3.5ZM1417.5 531.0h7v3.5h-7ZM1393.0 534.5h3.5v3.5h-3.5ZM1421.0 534.5h3.5v3.5h-3.5ZM1393.0 538.0h3.5v3.5h-3.5ZM1421.0 538.0h3.5v3.5h-3.5ZM1393.0 541.5h7v3.5h-7ZM1421.0 541.5h3.5v3.5h-3.5ZM1396.5 545.0h3.5v3.5h-3.5ZM1417.5 545.0h3.5v3.5h-3.5ZM1400.0 548.5h21v3.5h-21Z" fill="#000"/>
<path d="M1626.9 513.2h21v3.5h-21ZM1623.4 516.7h7v3.5h-7ZM1644.4 516.7h7v3.5h-7ZM1619.9 520.2h7v3.5h-7ZM1647.9 520.2h3.5v3.5h-3.5ZM1619.9 523.7h3.5v3.5h-3.5ZM1647.9 523.7h3.5v3.5h-3.5ZM1619.9 527.2h3.5v3.5h-3.5ZM1647.9 527.2h3.5v3.5h-3.5ZM1623.4 530.7h3.5v3.5h-3.5ZM1644.4 530.7h7v3.5h-7ZM1623.4 534.2h7v3.5h-7ZM1640.9 534.2h7v3.5h-7ZM1630.4 537.7h14v3.5h-14Z" fill="#000"/>
<path d="M652.3 906.3h17.5v3.5h-17.5ZM648.8 909.8h3.5v3.5h-3.5ZM669.8 909.8h3.5v3.5h-3.5ZM645.3 913.3h7v3.5h-7ZM669.8 913.3h7v3.5h-7ZM645.3 916.8h3.5v3.5h-3.5ZM673.3 916.8h3.5v3.5h-3.5ZM645.3 920.3h3.5v3.5h-3.5ZM673.3 920.3h3.5v3.5h-3.5ZM645.3 923.8h7v3.5h-7ZM669.8 923.8h7v3.5h-7ZM648.8 927.3h7v3.5h-7ZM666.3 927.3h7v3.5h-7ZM652.3 930.8h17.5v3.5h-17.5Z" fill="#000"/>
<path d="M840.1 949.2h21v3.5h-21ZM836.6 952.7h7v3.5h-7ZM861.1 952.7h3.5v3.5h-3.5ZM836.6 956.2h3.5v3.5h-3.5ZM861.1 956.2h3.5v3.5h-3.5ZM836.6 959.7h3.5v3.5h-3.5ZM864.6 959.7h3.5v3.5h-3.5ZM836.6 963.2h3.5v3.5h-3.5ZM861.1 963.2h7v3.5h-7ZM836.6 966.7h3.5v3.5h-3.5ZM861.1 966.7h3.5v3.5h-3.5ZM840.1 970.2h7v3.5h-7ZM854.1 970.2h10.5v3.5h-10.5ZM843.6 973.7h14v3.5h-14Z" fill="#000"/>
<path d="M1028.1 959.6h17.5v3.5h-17.5ZM1024.6 963.1h7v3.5h-7ZM1042.1 963.1h7v3.5h-7ZM1021.1 966.6h7v3.5h-7ZM1045.6 966.6h7v3.5h-7ZM1021.1 970.1h3.5v3.5h-3.5ZM1049.1 970.1h3.5v3.5h-3.5ZM1021.1 973.6h3.5v3.5h-3.5ZM1049.1 973.6h3.5v3.5h-3.5ZM1021.1 977.1h7v3.5h-7ZM1049.1 977.1h3.5v3.5h-3.5ZM1024.6 980.6h7v3.5h-7ZM1045.6 980.6h3.5v3.5h-3.5ZM1028.1 984.1h21v3.5h-21Z" fill="#000"/>
<path d="M1130.7 984.4h21v3.5h-21ZM1127.2 987.9h7v3.5h-7ZM1148.2 987.9h7v3.5h-7ZM1127.2 991.4h3.5v3.5h-3.5ZM1151.7 991.4h7v3.5h-7ZM1127.2 994.9h3.5v3.5h-3.5ZM1155.2 994.9h3.5v3.5h-3.5ZM1127.2 998.4h3.5v3.5h-3.5ZM1155.2 998.4h3.5v3.5h-3.5ZM1127.2 1001.9h3.5v3.5h-3.5ZM1151.7 1001.9h3.5v3.5h-3.5ZM1130.7 1005.4h3.5v3.5h-3.5ZM1148.2 1005.4h7v3.5h-7ZM1134.2 1008.9h17.5v3.5h-17.5Z" fill="#000"/>
<path d="M1208.6 995.0h21v3.5h-21ZM1205.1 998.5h7v3.5h-7ZM1226.1 998.5h7v3.5h-7ZM1205.1 1002.0h3.5v3.5h-3.5ZM1229.6 1002.0h7v3.5h-7ZM1205.1 1005.5h3.5v3.5h-3.5ZM1233.1 1005.5h3.5v3.5h-3.5ZM1205.1 1009.0h3.5v3.5h-3.5ZM1233.1 1009.0h3.5v3.5h-3.5ZM1205.1 1012.5h7v3.5h-7ZM1229.6 1012.5h3.5v3.5h-3.5ZM1208.6 1016.0h3.5v3.5h-3.5ZM1226.1 1016.0h7v3.5h-7ZM1212.1 1019.5h17.5v3.5h-17.5Z" fill="#000"/>
<path d="M1389.5 977.3h21v3.5h-21ZM1386.0 980.8h7v3.5h-7ZM1407.0 980.8h7v3.5h-7ZM1386.0 984.3h3.5v3.5h-3.5ZM1410.5 984.3h3.5v3.5h-3.5ZM1386.0 987.8h3.5v3.5h-3.5ZM1410.5 987.8h3.5v3.5h-3.5ZM1386.0 991.3h3.5v3.5h-3.5ZM1410.5 991.3h3.5v3.5h-3.5ZM1386.0 994.8h3.5v3.5h-3.5ZM1410.5 994.8h3.5v3.5h-3.5ZM1386.0 998.3h7v3.5h-7ZM1407.0 998.3h7v3.5h-7ZM1389.5 1001.8h17.5v3.5h-17.5Z" fill="#000"/>
<path d="M1637.2 1002.1h14v3.5h-14ZM1633.7 1005.6h7v3.5h-7ZM1647.7 1005.6h10.5v3.5h-10.5ZM1630.2 1009.1h7v3.5h-7ZM1654.7 1009.1h3.5v3.5h-3.5ZM1630.2 1012.6h3.5v3.5h-3.5ZM1658.2 1012.6h3.5v3.5h-3.5ZM1630.2 1016.1h3.5v3.5h-3.5ZM1658.2 1016.1h3.5v3.5h-3.5ZM1630.2 1019.6h3.5v3.5h-3.5ZM1654.7 1019.6h7v3.5h-7ZM1630.2 1023.1h7v3.5h-7ZM1654.7 1023.1h3.5v3.5h-3.5ZM1633.7 1026.6h7v3.5h-7ZM1647.7 1026.6h10.5v3.5h-10.5ZM1640.7 1030.1h10.5v3.5h-10.5Z" fill="#000"/>
<path d="M648.8 1402.3h14v3.5h-14ZM645.3 1405.8h7v3.5h-7ZM659.3 1405.8h10.5v3.5h-10.5ZM641.8 1409.3h7v3.5h-7ZM666.3 1409.3h3.5v3.5h-3.5ZM641.8 1412.8h3.5v3.5h-3.5ZM669.8 1412.8h3.5v3.5h-3.5ZM641.8 1416.3h3.5v3.5h-3.5ZM669.8 1416.3h3.5v3.5h-3.5ZM641.8 1419.8h3.5v3.5h-3.5ZM666.3 1419.8h7v3.5h-7ZM641.8 1423.3h7v3.5h-7ZM666.3 1423.3h3.5v3.5h-3.5ZM645.3 1426.8h7v3.5h-7ZM659.3 1426.8h10.5v3.5h-10.5ZM652.3 1430.3h10.5v3.5h-10.5Z" fill="#000"/>
<path d="M850.7 1409.4h17.5v3.5h-17.5ZM847.2 1412.9h7v3.5h-7ZM868.2 1412.9h7v3.5h-7ZM847.2 1416.4h3.5v3.5h-3.5ZM871.7 1416.4h3.5v3.5h-3.5ZM843.7 1419.9h7v3.5h-7ZM871.7 1419.9h3.5v3.5h-3.5ZM843.7 1423.4h7v3.5h-7ZM871.7 1423.4h3.5v3.5h-3.5ZM847.2 1426.9h3.5v3.5h-3.5ZM871.7 1426.9h3.5v3.5h-3.5ZM847.2 1430.4h7v3.5h-7ZM868.2 1430.4h7v3.5h-7ZM850.7 1433.9h21v3.5h-21Z" fill="#000"/>
<path d="M1024.4 1444.9h10.5v3.5h-10.5ZM1017.4 1448.4h7v3.5h-7ZM1031.4 1448.4h10.5v3.5h-10.5ZM1013.9 1451.9h7v3.5h-7ZM1038.4 1451.9h7v3.5h-7ZM1013.9 1455.4h3.5v3.5h-3.5ZM1041.9 1455.4h3.5v3.5h-3.5ZM1013.9 1458.9h3.5v3.5h-3.5ZM1041.9 1458.9h3.5v3.5h-3.5ZM1013.9 1462.4h3.5v3.5h-3.5ZM1041.9 1462.4h3.5v3.5h-3.5ZM1013.9 1465.9h7v3.5h-7ZM1038.4 1465.9h3.5v3.5h-3.5ZM1017.4 1469.4h10.5v3.5h-10.5ZM1031.4 1469.4h10.5v3.5h-10.5ZM1024.4 1472.9h10.5v3.5h-10.5Z" fill="#000"/>
<path d="M1141.4 1487.3h10.5v3.5h-10.5ZM1134.4 1490.8h10.5v3.5h-10.5ZM1151.9 1490.8h7v3.5h-7ZM1130.9 1494.3h7v3.5h-7ZM1155.4 1494.3h7v3.5h-7ZM1130.9 1497.8h3.5v3.5h-3.5ZM1158.9 1497.8h3.5v3.5h-3.5ZM1130.9 1501.3h3.5v3.5h-3.5ZM1158.9 1501.3h3.5v3.5h-3.5ZM1130.9 1504.8h3.5v3.5h-3.5ZM1158.9 1504.8h3.5v3.5h-3.5ZM1134.4 1508.3h3.5v3.5h-3.5ZM1155.4 1508.3h7v3.5h-7ZM1134.4 1511.8h10.5v3.5h-10.5ZM1148.4 1511.8h10.5v3.5h-10.5ZM1141.4 1515.3h10.5v3.5h-10.5Z" fill="#000"/>
<path d="M1205.2 1476.7h21v3.5h-21ZM1201.7 1480.2h7v3.5h-7ZM1222.7 1480.2h7v3.5h-7ZM1201.7 1483.7h3.5v3.5h-3.5ZM1226.2 1483.7h3.5v3.5h-3.5ZM1201.7 1487.2h3.5v3.5h-3.5ZM1226.2 1487.2h3.5v3.5h-3.5ZM1201.7 1490.7h3.5v3.5h-3.5ZM1226.2 1490.7h3.5v3.5h-3.5ZM1201.7 1494.2h3.5v3.5h-3.5ZM1226.2 1494.2h3.5v3.5h-3.5ZM1201.7 1497.7h7v3.5h-7ZM1222.7 1497.7h7v3.5h-7ZM1208.7 1501.2h17.5v3.5h-17.5Z" fill="#000"/>
<path d="M1393.0 1480.3h21v3.5h-21ZM1389.5 1483.8h7v3.5h-7ZM1410.5 1483.8h7v3.5h-7ZM1386.0 1487.3h7v3.5h-7ZM1414.0 1487.3h3.5v3.5h-3.5ZM1386.0 1490.8h3.5v3.5h-3.5ZM1414.0 1490.8h3.5v3.5h-3.5ZM1386.0 1494.3h7v3.5h-7ZM1414.0 1494.3h3.5v3.5h-3.5ZM1389.5 1497.8h3.5v3.5h-3.5ZM1410.5 1497.8h7v3.5h-7ZM1389.5 1501.3h7v3.5h-7ZM1407.0 1501.3h7v3.5h-7ZM1396.5 1504.8h14v3.5h-14Z" fill="#000"/>
<path d="M1626.7 1487.3h21v3.5h-21ZM1623.2 1490.8h7v3.5h-7ZM1644.2 1490.8h7v3.5h-7ZM1623.2 1494.3h3.5v3.5h-3.5ZM1647.7 1494.3h7v3.5h-7ZM1623.2 1497.8h3.5v3.5h-3.5ZM1651.2 1497.8h3.5v3.5h-3.5ZM1623.2 1501.3h3.5v3.5h-3.5ZM1651.2 1501.3h3.5v3.5h-3.5ZM1623.2 1504.8h7v3.5h-7ZM1647.7 1504.8h3.5v3.5h-3.5ZM1626.7 1508.3h7v3.5h-7ZM1644.2 1508.3h7v3.5h-7ZM1630.2 1511.8h17.5v3.5h-17.5Z" fill="#000"/>
<rect x="1818" y="52.6" width="177.4" height="7.4" fill="#0000ff"/>
<rect x="1825.1" y="144.7" width="163.2" height="7.3" fill="#ff0000"/>
<rect x="1829" y="247.4" width="162.9" height="7.3" fill="#000"/>
</g>
<g id="ticks">
<text x="177.5" y="1731.6" font-size="63.5" text-anchor="middle">0</text>
<text x="422.3" y="1731.6" font-size="63.5" text-anchor="middle">10</text>
<text x="667.1" y="1731.6" font-size="63.5" text-anchor="middle">20</text>
<text x="911.9" y="1731.6" font-size="63.5" text-anchor="middle">30</text>
<text x="1156.7" y="1731.6" font-size="63.5" text-anchor="middle">40</text>
<text x="1401.5" y="1731.6" font-size="63.5" text-anchor="middle">50</text>
<text x="1646.3" y="1731.6" font-size="63.5" text-anchor="middle">60</text>
<text x="1891.1" y="1731.6" font-size="63.5" text-anchor="middle">70</text>
<text x="2135.9" y="1731.6" font-size="63.5" text-anchor="middle">80</text>
</g>
<text id="xlabel" y="1862.5" xml:space="preserve"><tspan x="1125" font-size="77">2 </tspan><tspan class="serif" x="1195" font-size="76">θ</tspan><tspan class="serif" x="1237" font-size="82">, </tspan><tspan x="1276" y="1864.5" font-size="86">°</tspan></text>
<text id="ylabel" transform="translate(82.3 862) rotate(-90)" font-size="78" letter-spacing="0.45" text-anchor="middle">Intensity</text>
<g id="legend">
<text x="2011" y="80.8" font-size="77" letter-spacing="1.6">mod.1</text>
<text x="2011" y="176.7" font-size="77" letter-spacing="1.6">mod.1 Al-5-c</text>
<text x="2011" y="275.6" font-size="77" letter-spacing="1.2">mod.1 Fe-5-c</text>
</g>
</svg>
</body>
</html>
